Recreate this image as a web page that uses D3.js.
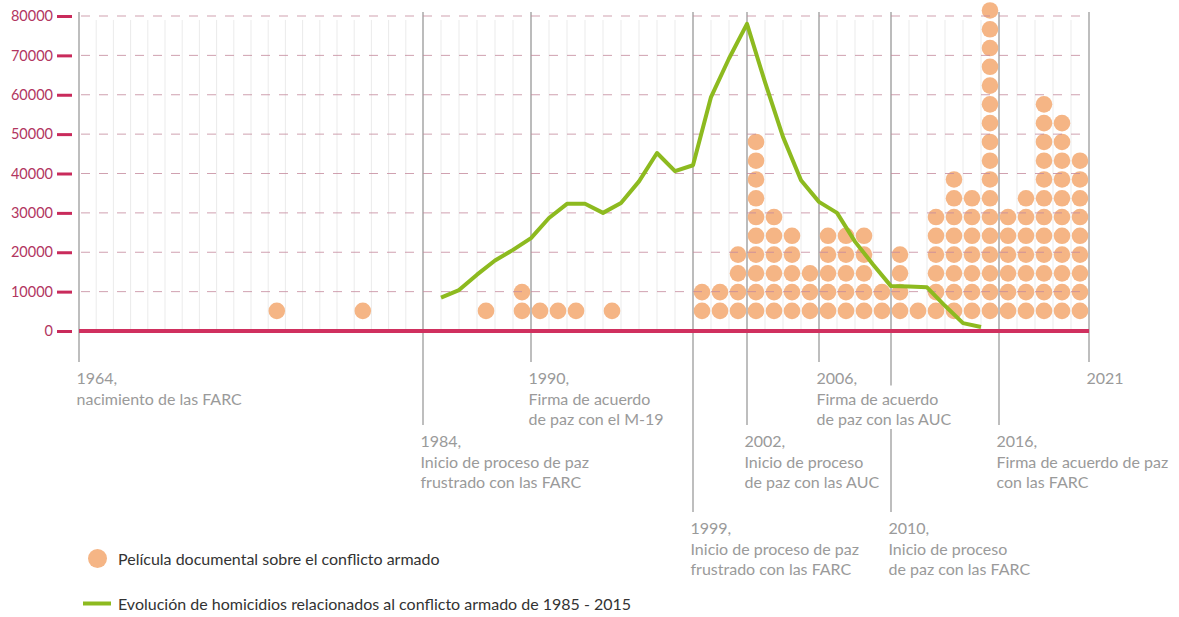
<!DOCTYPE html>
<html>
<head>
<meta charset="utf-8">
<script src="https://cdn.jsdelivr.net/npm/d3@7"></script>
<style>
    body { margin: 0; background: #fff; }
    svg { display: block; font-family: Lato, 'Open Sans', sans-serif; }
</style>
</head>
<body>
<svg id="chart" width="1179" height="617"></svg>
<script>
// y axis ticks
const yTicks = [ 0, 10000, 20000, 30000, 40000, 50000, 60000, 70000, 80000 ];

// documentary films per year (one dot each)
const filmYears  = [ 1975, 1980, 1987, 1989, 1990, 1991, 1992, 1994, 1999, 2000, 2001, 2002, 2003, 2004, 2005, 2006, 2007, 2008, 2009, 2010, 2011, 2012, 2013, 2014, 2015, 2016, 2017, 2018, 2019, 2020 ];
const filmCounts = [ 1, 1, 1, 2, 1, 1, 1, 1, 2, 2, 4, 10, 6, 5, 3, 5, 5, 5, 2, 4, 1, 6, 8, 7, 17, 6, 7, 12, 11, 9 ];

// homicides linked to the armed conflict 1985 - 2015
const homicideYears  = d3.range( 1985, 2016 );
const homicideValues = [ 8500, 10400, 14300, 17900, 20600, 23600, 28700, 32300, 32300, 30000, 32500, 38000, 45200, 40600, 42100, 59400, 69200, 78000, 63200, 49300, 38300, 32800, 30000, 22700, 16900, 11400, 11300, 11100, 6400, 2000, 1000 ];

// timeline events
const eventYears  = [ 1964, 1984, 1990, 1999, 2002, 2006, 2010, 2016, 2021 ];
const eventLabels = [
    [ '1964,', 'nacimiento de las FARC' ],
    [ '1984,', 'Inicio de proceso de paz', 'frustrado con las FARC' ],
    [ '1990,', 'Firma de acuerdo', 'de paz con el M-19' ],
    [ '1999,', 'Inicio de proceso de paz', 'frustrado con las FARC' ],
    [ '2002,', 'Inicio de proceso', 'de paz con las AUC' ],
    [ '2006,', 'Firma de acuerdo', 'de paz con las AUC' ],
    [ '2010,', 'Inicio de proceso', 'de paz con las FARC' ],
    [ '2016,', 'Firma de acuerdo de paz', 'con las FARC' ],
    [ '2021' ]
];

const legendFilms = 'Película documental sobre el conflicto armado';
const legendHomicides = 'Evolución de homicidios relacionados al conflicto armado de 1985 - 2015';

// layout
const labelRow = [ 0, 1, 0, 2, 1, 0, 2, 1, 0 ];
const rowEnd = [ 362, 425, 512 ];

const svg = d3.select( '#chart' );

const x = d3.scaleLinear().domain( [ 1964, 1984, 2021 ] ).range( [ 79, 423, 1089 ] );
const y = d3.scaleLinear().domain( [ 0, 80000 ] ).range( [ 331, 16 ] );
const stack = d3.scaleLinear().domain( [ 1, 17 ] ).range( [ y( 5100 ), y( 81400 ) ] );

// yearly minor grid
svg.append( 'g' )
    .selectAll( 'line' )
    .data( d3.range( 1965, 2021 ) )
    .enter().append( 'line' )
    .attr( 'x1', d => x( d ) ).attr( 'x2', d => x( d ) )
    .attr( 'y1', y( 79000 ) ).attr( 'y2', y( 0 ) )
    .attr( 'stroke', '#ebebeb' )
    .attr( 'stroke-width', 1 );

// event lines
svg.append( 'g' )
    .selectAll( 'line' )
    .data( eventYears )
    .enter().append( 'line' )
    .attr( 'x1', d => x( d ) ).attr( 'x2', d => x( d ) )
    .attr( 'y1', y( 81000 ) )
    .attr( 'y2', ( d, i ) => rowEnd[ labelRow[ i ] ] )
    .attr( 'stroke', '#a8a8a8' )
    .attr( 'stroke-width', 1.5 );

// films
const dots = [];
filmYears.forEach( ( yr, i ) => {
    d3.range( 1, filmCounts[ i ] + 1 ).forEach( k => dots.push( { year: yr, k: k } ) );
} );

svg.append( 'g' )
    .selectAll( 'circle' )
    .data( dots )
    .enter().append( 'circle' )
    .attr( 'cx', d => x( d.year + 0.5 ) )
    .attr( 'cy', d => stack( d.k ) )
    .attr( 'r', 8.3 )
    .attr( 'fill', '#f5b585' );

// dashed horizontal grid
svg.append( 'g' )
    .selectAll( 'line' )
    .data( yTicks.filter( d => d > 0 ) )
    .enter().append( 'line' )
    .attr( 'x1', x( 1964 ) + 2 ).attr( 'x2', x( 2021 ) )
    .attr( 'y1', d => y( d ) ).attr( 'y2', d => y( d ) )
    .attr( 'stroke', '#c48a9c' )
    .attr( 'stroke-opacity', 0.8 )
    .attr( 'stroke-dasharray', '9,9' )
    .attr( 'stroke-width', 1 );

// zero line
svg.append( 'line' )
    .attr( 'x1', x( 1964 ) ).attr( 'x2', x( 2021 ) )
    .attr( 'y1', y( 0 ) ).attr( 'y2', y( 0 ) )
    .attr( 'stroke', '#d0305f' )
    .attr( 'stroke-width', 4 );

// homicides line
const line = d3.line()
    .x( ( d, i ) => x( homicideYears[ i ] ) )
    .y( d => y( d ) );

svg.append( 'path' )
    .datum( homicideValues )
    .attr( 'd', line )
    .attr( 'fill', 'none' )
    .attr( 'stroke', '#8dba1f' )
    .attr( 'stroke-width', 4 )
    .attr( 'stroke-linejoin', 'round' );

// y axis
const yAxis = svg.append( 'g' )
    .attr( 'transform', 'translate(72,0)' )
    .call( d3.axisLeft( y ).tickValues( yTicks ).tickSize( 15 ).tickPadding( 4 ).tickFormat( d3.format( 'd' ) ) );

yAxis.select( '.domain' ).remove();
yAxis.selectAll( '.tick line' ).attr( 'stroke', '#c92a5b' ).attr( 'stroke-width', 3 );
yAxis.selectAll( '.tick text' )
    .attr( 'fill', '#b2365f' )
    .style( 'font-size', '14.5px' )
    .style( 'font-family', 'Lato, sans-serif' );

// event labels
const labels = svg.append( 'g' );
eventYears.forEach( ( yr, i ) => {
    const g = labels.append( 'g' );
    eventLabels[ i ].forEach( ( t, j ) => {
        g.append( 'text' )
            .attr( 'x', x( yr ) - 2.5 )
            .attr( 'y', rowEnd[ labelRow[ i ] ] + 22 + j * 20.5 )
            .attr( 'fill', '#9a9a9a' )
            .style( 'font-size', '16px' )
            .text( t );
    } );
    // white backing so crossing lines are cut
    g.selectAll( 'text' ).each( function( d, j ) {
        if( j == 0 ) return;
        const b = this.getBBox();
        g.insert( 'rect', 'text' )
            .attr( 'x', b.x - 2 ).attr( 'y', b.y - 3 )
            .attr( 'width', b.width + 4 ).attr( 'height', b.height + 4 )
            .attr( 'fill', '#fff' );
    } );
} );

// legend
const legend = svg.append( 'g' );
legend.append( 'circle' )
    .attr( 'cx', 97.5 ).attr( 'cy', 558.5 ).attr( 'r', 9.5 )
    .attr( 'fill', '#f5b585' );
legend.append( 'text' )
    .attr( 'x', 118 ).attr( 'y', 564.5 )
    .attr( 'fill', '#333' )
    .style( 'font-size', '16px' )
    .text( legendFilms );
legend.append( 'line' )
    .attr( 'x1', 83 ).attr( 'x2', 111 )
    .attr( 'y1', 603.5 ).attr( 'y2', 603.5 )
    .attr( 'stroke', '#8dba1f' )
    .attr( 'stroke-width', 4 );
legend.append( 'text' )
    .attr( 'x', 118 ).attr( 'y', 610 )
    .attr( 'fill', '#333' )
    .style( 'font-size', '16px' )
    .text( legendHomicides );
</script>
</body>
</html>
